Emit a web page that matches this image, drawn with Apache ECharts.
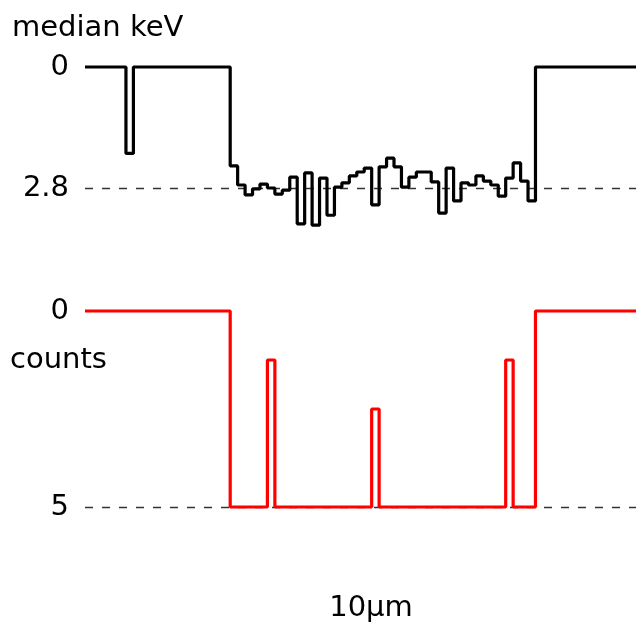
<!DOCTYPE html>
<html>
<head>
<meta charset="utf-8">
<script src="https://cdn.jsdelivr.net/npm/echarts@6/dist/echarts.min.js"></script>
<style>
  html, body { margin: 0; padding: 0; background: #fff; }
  #chart { width: 636px; height: 624px; }
</style>
</head>
<body>
<div id="chart"></div>
<script>
// Profile sampled along a 10 µm line: one value per sample position.
const medianKeV = [
  0, 0, 0, 0, 0, 0, 2.0, 0, 0, 0, 0, 0, 0, 0, 0, 0, 0, 0, 0, 0,
  2.29, 2.73, 2.96, 2.82, 2.71, 2.80, 2.94, 2.85, 2.55, 3.63,
  2.45, 3.66, 2.57, 3.43, 2.78, 2.68, 2.52, 2.43, 2.34, 3.19,
  2.31, 2.11, 2.31, 2.78, 2.55, 2.43, 2.43, 2.66, 3.38, 2.34,
  3.10, 2.68, 2.73, 2.52, 2.64, 2.73, 2.99, 2.57, 2.22, 2.64,
  3.10,
  0, 0, 0, 0, 0, 0, 0, 0, 0, 0, 0, 0, 0, 0
];
const counts = [
  0, 0, 0, 0, 0, 0, 0, 0, 0, 0, 0, 0, 0, 0, 0, 0, 0, 0, 0, 0,
  5, 5, 5, 5, 5, 1.25, 5, 5, 5, 5,
  5, 5, 5, 5, 5, 5, 5, 5, 5, 2.5,
  5, 5, 5, 5, 5, 5, 5, 5, 5, 5,
  5, 5, 5, 5, 5, 5, 5, 1.25, 5, 5,
  5,
  0, 0, 0, 0, 0, 0, 0, 0, 0, 0, 0, 0, 0, 0
];
const keVTicks = { min: 0, max: 2.8 };
const countTicks = { min: 0, max: 5 };
const positions = medianKeV.map((_, i) => String(i));

const FONT = 'DejaVu Sans';
const FS = 29;
const fontCss = FS + 'px "' + FONT + '"';

const chart = echarts.init(document.getElementById('chart'), null, { renderer: 'canvas' });

function xAxisFor(gridIndex) {
  return {
    type: 'category', gridIndex, data: positions, boundaryGap: false,
    show: false
  };
}
function yAxisFor(gridIndex, ticks) {
  return {
    type: 'value', gridIndex, inverse: true,
    min: ticks.min, max: ticks.max, interval: ticks.max - ticks.min,
    axisLine: { show: false }, axisTick: { show: false },
    axisLabel: { color: '#000', fontFamily: FONT, fontSize: FS, margin: 16 },
    splitLine: {
      show: true, showMinLine: false,
      lineStyle: { color: '#333', type: [8, 9], width: 1.3 }
    }
  };
}

chart.setOption({
  animation: false,
  backgroundColor: '#fff',
  grid: [
    { left: 85, right: 0, top: 67, height: 121 },
    { left: 85, right: 0, top: 311, height: 196 }
  ],
  xAxis: [xAxisFor(0), xAxisFor(1)],
  yAxis: [yAxisFor(0, keVTicks), yAxisFor(1, countTicks)],
  series: [
    {
      type: 'line', xAxisIndex: 0, yAxisIndex: 0, data: medianKeV,
      step: 'middle', symbol: 'none', clip: false,
      lineStyle: { color: '#000', width: 3.2 }
    },
    {
      type: 'line', xAxisIndex: 1, yAxisIndex: 1, data: counts,
      step: 'middle', symbol: 'none', clip: false,
      lineStyle: { color: '#ff0000', width: 3.2 }
    }
  ],
  graphic: [
    { type: 'text', x: 12, y: 28,
      style: { text: 'median keV', fill: '#000', font: fontCss, textVerticalAlign: 'middle' } },
    { type: 'text', x: 10, y: 360,
      style: { text: 'counts', fill: '#000', font: fontCss, textVerticalAlign: 'middle' } },
    { type: 'text', x: 371, y: 608,
      style: { text: '10µm', fill: '#000', font: fontCss, textAlign: 'center', textVerticalAlign: 'middle' } }
  ]
});
</script>
</body>
</html>
